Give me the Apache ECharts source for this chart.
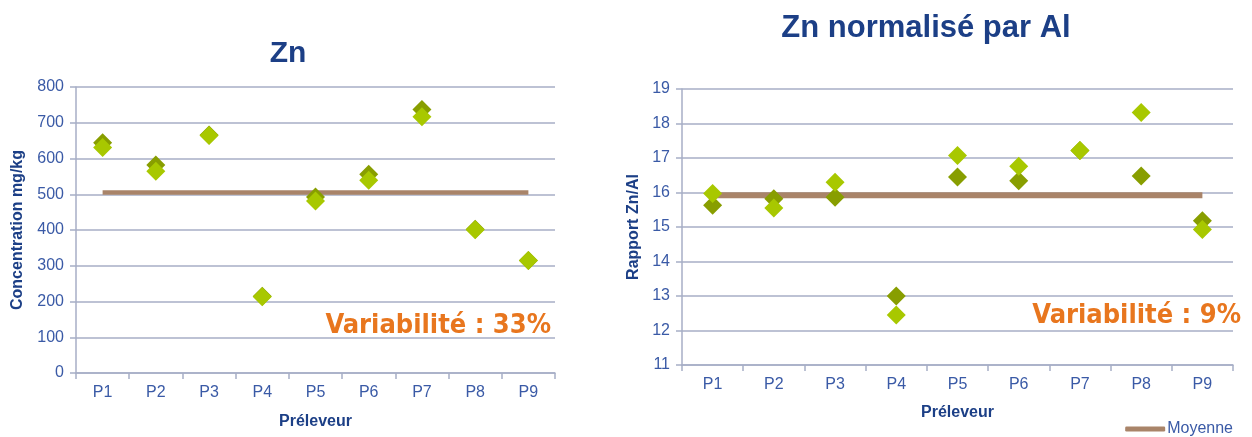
<!DOCTYPE html>
<html>
<head>
<meta charset="utf-8">
<script src="https://cdn.jsdelivr.net/npm/echarts@6/dist/echarts.min.js"></script>
<style>
  html, body { margin: 0; padding: 0; background: #fff; }
  #main { width: 1252px; height: 437px; }
</style>
</head>
<body>
<div id="main"></div>
<script type="text/javascript">
// données
var preleveurs = ['P1', 'P2', 'P3', 'P4', 'P5', 'P6', 'P7', 'P8', 'P9'];
// Zn en mg/kg (deux réplicats)
var zn1 = [644, 582, 666, 215, 492, 556, 737, 402, 315];
var zn2 = [631, 564, 664, 213, 481, 539, 717, 401, 315];
var znMoyenne = 505;
// Zn / Al
var ratio1 = [15.63, 15.82, 15.86, 13.00, 16.45, 16.34, 17.22, 16.48, 15.18];
var ratio2 = [15.97, 15.55, 16.30, 12.45, 17.07, 16.76, 17.22, 18.32, 14.93];
var ratioMoyenne = 15.92;

var navy = '#1c3f86';
var labelBlue = '#3a5aa6';
var gridCol = '#a7aec6';
var dark = '#889e00';
var light = '#a8c800';
var brown = '#a98469';

var myChart = echarts.init(document.getElementById('main'));

function xAx(idx, gap) {
    return {
        type: 'category',
        gridIndex: idx,
        data: preleveurs,
        name: 'Préleveur',
        nameLocation: 'middle',
        nameGap: gap,
        nameTextStyle: { color: navy, fontWeight: 'bold', fontSize: 16, fontFamily: 'Liberation Sans' },
        axisLine: { lineStyle: { color: gridCol, width: 1.5 } },
        axisTick: { show: true, length: 6, lineStyle: { color: gridCol, width: 1.5 } },
        axisLabel: { color: labelBlue, fontSize: 16, margin: 12, fontFamily: 'Liberation Sans' },
        splitLine: { show: false }
    };
}
function yAx(idx, min, max, interval, name, gap) {
    return {
        type: 'value',
        gridIndex: idx,
        min: min, max: max, interval: interval,
        name: name,
        nameLocation: 'middle',
        nameGap: gap,
        nameTextStyle: { color: navy, fontWeight: 'bold', fontSize: 16, fontFamily: 'Liberation Sans' },
        axisLine: { show: true, lineStyle: { color: gridCol, width: 1.5 } },
        axisTick: { show: true, length: 6, lineStyle: { color: gridCol, width: 1.5 } },
        axisLabel: { color: labelBlue, fontSize: 16, margin: 12, fontFamily: 'Liberation Sans' },
        splitLine: { lineStyle: { color: gridCol, width: 1.5 } }
    };
}
function points(name, data, color, x, y) {
    return {
        name: name, type: 'scatter', xAxisIndex: x, yAxisIndex: y,
        symbol: 'diamond', symbolSize: 19,
        itemStyle: { color: color, opacity: 1 },
        data: data, z: 3
    };
}
function moyenne(val, x, y, w) {
    return {
        name: 'Moyenne', type: 'line', xAxisIndex: x, yAxisIndex: y,
        symbol: 'none', z: 2,
        lineStyle: { color: brown, width: w },
        itemStyle: { color: brown },
        data: [[preleveurs[0], val], [preleveurs[preleveurs.length - 1], val]]
    };
}

var option = {
    animation: false,
    title: [
        { text: 'Zn', left: 283, top: 34, textAlign: 'center',
          textStyle: { color: navy, fontSize: 30, fontWeight: 'bold', fontFamily: 'Liberation Sans' } },
        { text: 'Zn normalisé par Al', left: 921, top: 8, textAlign: 'center',
          textStyle: { color: navy, fontSize: 31, fontWeight: 'bold', fontFamily: 'Liberation Sans' } }
    ],
    legend: {
        data: [{ name: 'Moyenne', icon: 'roundRect' }],
        right: 14, top: 416,
        itemWidth: 40, itemHeight: 5, itemGap: 2,
        textStyle: { color: labelBlue, fontSize: 16, fontFamily: 'Liberation Sans', padding: [0, 0, 0, -3] },
        itemStyle: { color: brown }
    },
    grid: [
        { left: 76, top: 87, width: 479, height: 286 },
        { left: 682, top: 89, width: 551, height: 276 }
    ],
    xAxis: [xAx(0, 41), xAx(1, 40)],
    yAxis: [
        yAx(0, 0, 800, 100, 'Concentration mg/kg', 50),
        yAx(1, 11, 19, 1, 'Rapport Zn/Al', 40)
    ],
    graphic: [
        { type: 'text', right: 1252 - 551, top: 312,
          style: { text: 'Variabilité : 33%', fill: '#e8761e', font: 'bold 27px "DejaVu Sans Condensed"' } },
        { type: 'text', right: 11, top: 302,
          style: { text: 'Variabilité : 9%', fill: '#e8761e', font: 'bold 27px "DejaVu Sans Condensed"' } }
    ],
    series: [
        moyenne(znMoyenne, 0, 0, 4.5),
        points('Réplicat 1', zn1, dark, 0, 0),
        points('Réplicat 2', zn2, light, 0, 0),
        moyenne(ratioMoyenne, 1, 1, 6),
        points('Réplicat 1 ', ratio1, dark, 1, 1),
        points('Réplicat 2 ', ratio2, light, 1, 1)
    ]
};

myChart.setOption(option);
</script>
</body>
</html>
